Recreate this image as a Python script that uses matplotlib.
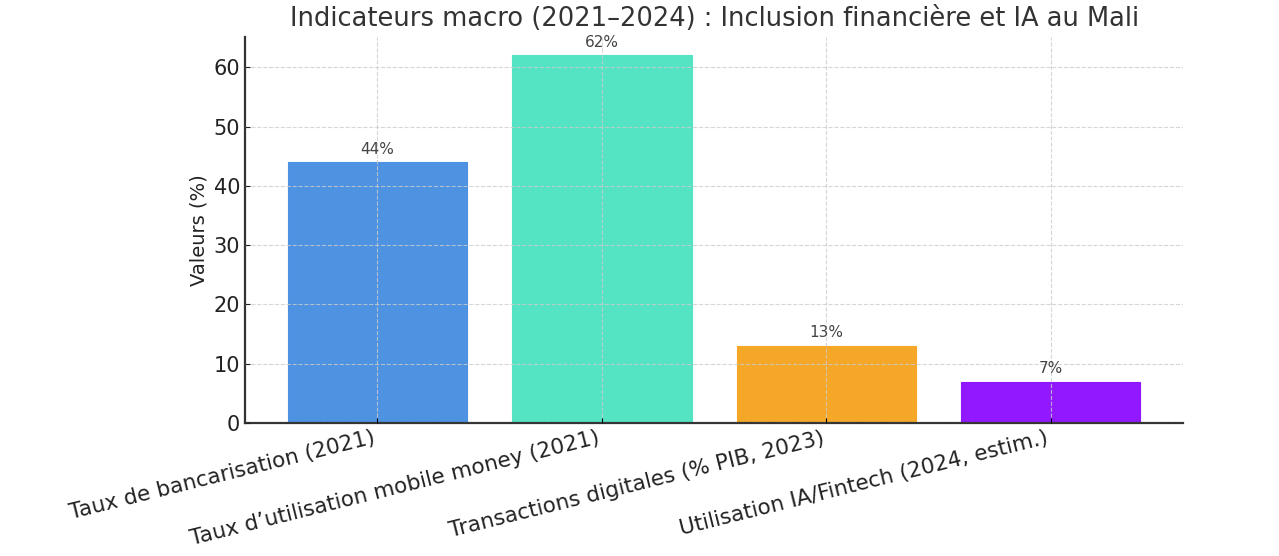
import matplotlib
matplotlib.use("Agg")
import matplotlib.pyplot as plt

# data
categories = [
    "Taux de bancarisation (2021)",
    "Taux d\u2019utilisation mobile money (2021)",
    "Transactions digitales (% PIB, 2023)",
    "Utilisation IA/Fintech (2024, estim.)",
]
values = [44, 62, 13, 7]
bar_colors = ["#4A90E2", "#50E3C2", "#F5A623", "#9013FE"]
title = "Indicateurs macro (2021\u20132024) : Inclusion financi\u00e8re et IA au Mali"
ylabel = "Valeurs (%)"


def main():
  fig = plt.figure(figsize=(12.79, 5.56), dpi=100)
  ax = fig.add_axes([0.1916, 0.239, 0.7334, 0.6945])

  x = range(len(categories))
  bars = ax.bar(x, values, width=0.8, color=bar_colors, edgecolor=bar_colors,
                linewidth=0.8, alpha=0.98)

  # value labels above each bar
  for b, v in zip(bars, values):
    ax.annotate(f"{v}%", (b.get_x() + b.get_width() / 2, b.get_height()),
                xytext=(0, 4), textcoords="offset points",
                ha="center", va="bottom", fontsize=11, color="#444444")

  ax.set_title(title, fontsize=18.5, color="#333333", pad=8)
  ax.set_ylabel(ylabel, fontsize=14, color="#222222")
  ax.set_xticks(list(x))
  ax.set_xticklabels(categories, rotation=14, ha="right", fontsize=15.5,
                     color="#222222")
  ax.tick_params(axis="y", labelsize=15, colors="#222222", direction="in")
  ax.tick_params(axis="x", direction="in")

  ax.grid(True, linestyle="--", color="#cccccc", alpha=0.8, linewidth=0.8)
  ax.set_axisbelow(False)

  for side in ["top", "right"]:
    ax.spines[side].set_visible(False)
  for side in ["left", "bottom"]:
    ax.spines[side].set_linewidth(1.6)
    ax.spines[side].set_color("#333333")

  fig.savefig("out.png", dpi=100)


if __name__ == "__main__":
  main()
